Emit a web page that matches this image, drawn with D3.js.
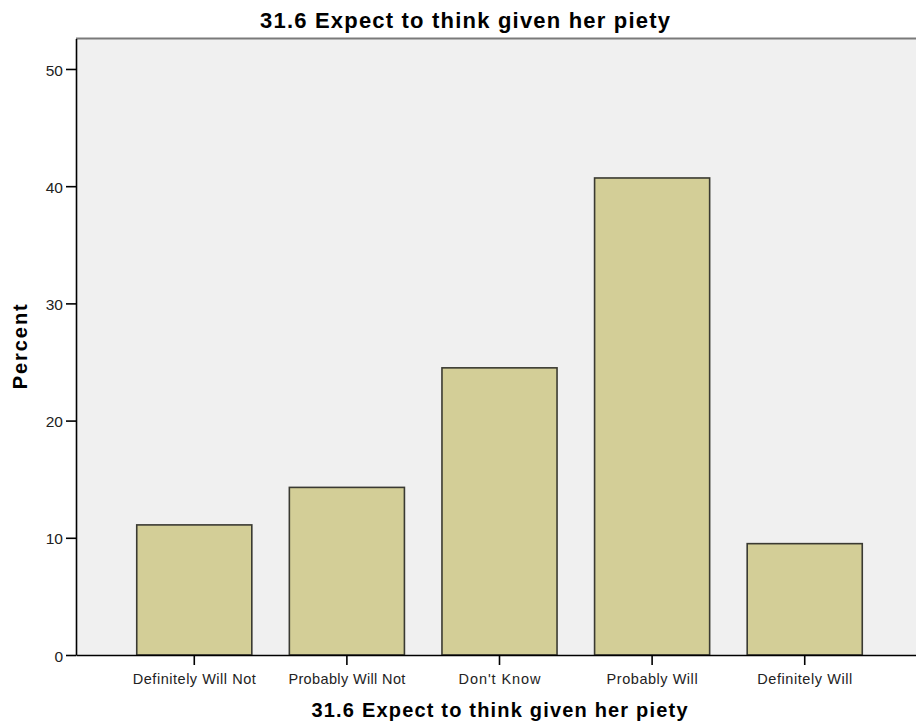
<!DOCTYPE html>
<html>
<head>
<meta charset="utf-8">
<script src="https://cdn.jsdelivr.net/npm/d3@7"></script>
<style>
  html, body { margin: 0; padding: 0; background: #ffffff; overflow: hidden; }
  svg { display: block; font-family: Arial, "Liberation Sans", sans-serif; }
</style>
</head>
<body>
<svg id="chart" width="916" height="725"></svg>
<script>
// Response categories and the percent answering each
const categories = ["Definitely Will Not", "Probably Will Not", "Don't Know", "Probably Will", "Definitely Will"];
const percents = [11.1, 14.3, 24.5, 40.7, 9.5];
const yTicks = [0, 10, 20, 30, 40, 50];
const chartTitle = "31.6 Expect to think given her piety";
const xTitle = "31.6 Expect to think given her piety";
const yTitle = "Percent";

const svg = d3.select("#chart");

// Plot frame (runs past the right edge of the view)
const plot = { left: 76, right: 923, top: 38.5, bottom: 655 };
const yMax = 52.6;

const x = d3.scaleBand()
  .domain(categories)
  .range([plot.left, plot.right])
  .paddingInner(0.246)
  .paddingOuter(0.398);

const y = d3.scaleLinear()
  .domain([0, yMax])
  .range([plot.bottom, plot.top]);

// Background panel
svg.append("rect")
  .attr("x", plot.left).attr("y", plot.top)
  .attr("width", plot.right - plot.left)
  .attr("height", plot.bottom - plot.top)
  .attr("fill", "#f0f0f0");

// Top border of the panel
svg.append("line")
  .attr("x1", plot.left).attr("x2", plot.right)
  .attr("y1", plot.top).attr("y2", plot.top)
  .attr("stroke", "#7a7a7a").attr("stroke-width", 2);

// Bars
svg.append("g").selectAll("rect")
  .data(categories)
  .join("rect")
  .attr("x", d => x(d))
  .attr("y", (d, i) => y(percents[i]))
  .attr("width", x.bandwidth())
  .attr("height", (d, i) => y(0) - y(percents[i]))
  .attr("fill", "#d3ce97")
  .attr("stroke", "#3a3a32")
  .attr("stroke-width", 1.6);

// Y axis
const yAxis = svg.append("g")
  .attr("transform", `translate(${plot.left},0)`)
  .call(d3.axisLeft(y).tickValues(yTicks).tickSize(10).tickPadding(3).tickSizeOuter(0));
yAxis.select(".domain").attr("stroke", "#000").attr("stroke-width", 1.6);
yAxis.selectAll(".tick line").attr("stroke", "#000").attr("stroke-width", 1.6);
yAxis.selectAll(".tick text")
  .attr("font-size", 15.5).attr("fill", "#222")
  .attr("font-family", "Arial, 'Liberation Sans', sans-serif")
  .attr("dy", "0.4em");

// X axis
const labelWidths = { "Definitely Will Not": 123, "Probably Will Not": 117, "Don't Know": 82, "Probably Will": 91, "Definitely Will": 95 };
const xAxis = svg.append("g")
  .attr("transform", `translate(0,${plot.bottom})`)
  .call(d3.axisBottom(x).tickSize(10).tickPadding(4).tickSizeOuter(0));
xAxis.select(".domain").attr("stroke", "#000").attr("stroke-width", 1.6);
xAxis.selectAll(".tick line").attr("stroke", "#000").attr("stroke-width", 1.6);
xAxis.selectAll(".tick text")
  .attr("font-size", 14.5).attr("fill", "#222")
  .attr("font-family", "Arial, 'Liberation Sans', sans-serif")
  .attr("textLength", d => labelWidths[d])
  .attr("lengthAdjust", "spacing")
  .attr("dy", "1.0em");

// Titles
svg.append("text")
  .attr("x", 465).attr("y", 28)
  .attr("text-anchor", "middle")
  .attr("font-size", 22).attr("font-weight", "bold")
  .attr("textLength", 410).attr("lengthAdjust", "spacing")
  .text(chartTitle);

svg.append("text")
  .attr("x", (plot.left + plot.right) / 2).attr("y", 717)
  .attr("text-anchor", "middle")
  .attr("font-size", 20).attr("font-weight", "bold")
  .attr("textLength", 376).attr("lengthAdjust", "spacing")
  .text(xTitle);

svg.append("text")
  .attr("transform", `translate(27,${(plot.top + plot.bottom) / 2}) rotate(-90)`)
  .attr("text-anchor", "middle")
  .attr("font-size", 20).attr("font-weight", "bold")
  .attr("textLength", 85).attr("lengthAdjust", "spacing")
  .text(yTitle);
</script>
</body>
</html>
